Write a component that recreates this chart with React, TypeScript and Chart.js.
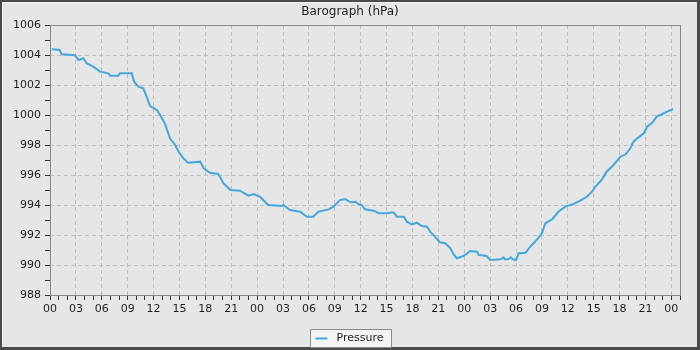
import React, { useEffect, useRef } from "react";
import { Chart, registerables } from "chart.js";

Chart.register(...registerables);

// hours since start (00:00 of day 1)
const hours = [
  0.2, 1.1, 1.35, 2.9, 3.3, 3.86, 4.25, 5.0, 5.8, 6.76, 6.96, 7.9, 8.1, 9.47, 9.74,
  10.24, 10.8, 11.2, 11.6, 12.4, 12.75, 13.3, 13.9, 14.5, 14.9, 15.45, 16.0, 17.4,
  17.8, 18.55, 19.5, 20.1, 20.9, 22.0, 23.0, 23.6, 24.35, 24.9, 25.3, 26.9, 27.05,
  27.8, 29.0, 29.76, 30.5, 31.1, 32.3, 32.85, 33.6, 34.2, 34.8, 35.4, 35.7, 36.1,
  36.5, 37.5, 38.1, 39.0, 39.8, 40.2, 41.0, 41.35, 41.9, 42.5, 43.1, 43.7, 44.05,
  44.6, 45.2, 45.8, 46.4, 46.8, 47.15, 47.9, 48.7, 49.5, 49.66, 50.6, 51.0, 52.2,
  52.56, 52.7, 53.1, 53.4, 53.6, 54.0, 54.3, 55.1, 55.65, 56.4, 57.0, 57.4, 58.2,
  58.9, 59.7, 60.67, 61.45, 62.2, 62.8, 63.2, 63.96, 64.5, 65.3, 66.1, 66.7, 67.25,
  67.6, 68.2, 68.8, 69.2, 69.8, 70.3, 70.9, 71.5, 72.2,
];

const pressure = [
  1004.38, 1004.33, 1004.05, 1003.98, 1003.67, 1003.78, 1003.45, 1003.22, 1002.89,
  1002.78, 1002.62, 1002.62, 1002.78, 1002.78, 1002.22, 1001.89, 1001.78, 1001.22,
  1000.6, 1000.33, 1000.0, 999.45, 998.45, 998.0, 997.55, 997.11, 996.82, 996.89,
  996.45, 996.15, 996.07, 995.45, 995.0, 994.95, 994.62, 994.73, 994.55, 994.22,
  994.0, 993.93, 994.0, 993.67, 993.55, 993.22, 993.22, 993.55, 993.71, 993.89,
  994.33, 994.4, 994.18, 994.22, 994.07, 994.0, 993.71, 993.62, 993.45, 993.45,
  993.51, 993.22, 993.22, 992.89, 992.71, 992.82, 992.6, 992.55, 992.22, 991.89,
  991.51, 991.45, 991.11, 990.67, 990.45, 990.6, 990.93, 990.89, 990.67, 990.6,
  990.33, 990.38, 990.51, 990.38, 990.38, 990.51, 990.38, 990.33, 990.78, 990.82,
  991.22, 991.67, 992.11, 992.78, 993.05, 993.55, 993.89, 994.07, 994.29, 994.55,
  994.89, 995.22, 995.71, 996.22, 996.67, 997.22, 997.38, 997.78, 998.22, 998.51,
  998.78, 999.22, 999.49, 999.89, 1000.05, 1000.22, 1000.4,
];

const hourLabels = ["00", "03", "06", "09", "12", "15", "18", "21"];
const xMin = 0;
const xMax = 73;
const yMin = 988;
const yMax = 1006;

const titleText = "Barograph (hPa)";
const seriesName = "Pressure";

const FONT = "DejaVu Sans";
const LINE_COLOR = "#45a6da";
const GRID_COLOR = "#bdbdbd";
const TICK_COLOR = "#333333";
const FRAME_COLOR = "#8a8a8a";
const TEXT_COLOR = "#1e1e1e";

export default function App() {
  const ref = useRef<HTMLCanvasElement | null>(null);

  useEffect(() => {
    if (!ref.current) return;

    const bgPlugin = {
      id: "bg",
      beforeDraw(chart: any) {
        const { ctx, width, height } = chart;
        ctx.save();
        ctx.fillStyle = "#4a4a4a";
        ctx.fillRect(0, 0, width, height);
        ctx.fillStyle = "#f2f2f2";
        ctx.fillRect(2, 2, width - 5, height - 5);
        ctx.fillStyle = "#e6e6e6";
        ctx.fillRect(3, 3, width - 6, height - 6);
        ctx.restore();
      },
    };

    const framePlugin = {
      id: "frame",
      beforeDatasetsDraw(chart: any) {
        const { ctx, chartArea: a } = chart;
        ctx.save();
        ctx.strokeStyle = FRAME_COLOR;
        ctx.lineWidth = 1;
        ctx.strokeRect(Math.round(a.left) + 0.5, Math.round(a.top) + 0.5,
          Math.round(a.right - a.left), Math.round(a.bottom - a.top));
        ctx.restore();
      },
    };

    const legendPlugin = {
      id: "customLegend",
      afterDraw(chart: any) {
        const { ctx, width } = chart;
        ctx.save();
        ctx.font = `11px "${FONT}"`;
        const tw = ctx.measureText(seriesName).width;
        const symW = 12;
        const gap = 9;
        const padX = 5;
        const boxW = Math.round(padX + symW + gap + tw + padX + 3);
        const boxH = 18;
        const left = Math.round((width - boxW) / 2) + 0.5;
        const top = 329.5;
        ctx.fillStyle = "#f4f4f4";
        ctx.fillRect(left, top, boxW, boxH);
        ctx.strokeStyle = FRAME_COLOR;
        ctx.lineWidth = 1;
        ctx.strokeRect(left, top, boxW, boxH);
        const cy = top + boxH / 2;
        ctx.strokeStyle = LINE_COLOR;
        ctx.lineWidth = 2;
        ctx.beginPath();
        ctx.moveTo(left + padX, cy);
        ctx.lineTo(left + padX + symW, cy);
        ctx.stroke();
        ctx.fillStyle = TEXT_COLOR;
        ctx.textBaseline = "middle";
        ctx.textAlign = "left";
        ctx.fillText(seriesName, left + padX + symW + gap, cy);
        ctx.restore();
      },
    };

    const chart = new Chart(ref.current, {
      type: "line",
      data: {
        datasets: [
          {
            label: seriesName,
            data: hours.map((h, i) => ({ x: h, y: pressure[i] })),
            borderColor: LINE_COLOR,
            backgroundColor: LINE_COLOR,
            borderWidth: 2,
            pointRadius: 0,
            tension: 0,
            fill: false,
          },
        ],
      },
      options: {
        animation: false,
        responsive: false,
        maintainAspectRatio: false,
        layout: { padding: { left: 0, right: 0, top: 0, bottom: 0 } },
        plugins: {
          legend: { display: false },
          tooltip: { enabled: false },
          title: {
            display: true,
            text: titleText,
            color: TEXT_COLOR,
            font: { family: FONT, size: 12, weight: "normal", lineHeight: 1.2 },
            padding: { top: 5, bottom: 5.6 },
          },
        },
        scales: {
          x: {
            type: "linear",
            min: xMin,
            max: xMax,
            afterFit(scale: any) {
              scale.height = 55;
            },
            border: { display: false, dash: [4, 3] },
            grid: {
              color: (ctx: any) =>
                ctx.tick && ctx.tick.value % 3 === 0 && ctx.tick.value > xMin
                  ? GRID_COLOR
                  : "transparent",
              lineWidth: 1,
              tickColor: TICK_COLOR,
              tickLength: 5,
              tickBorderDash: [],
              drawTicks: true,
            },
            ticks: {
              stepSize: 1,
              autoSkip: false,
              maxRotation: 0,
              minRotation: 0,
              padding: 3,
              color: TEXT_COLOR,
              font: { family: FONT, size: 11 },
              callback: (v: any) => {
                const n = Math.round(Number(v));
                return n % 3 === 0 ? hourLabels[(n % 24) / 3] : "";
              },
            },
          },
          y: {
            type: "linear",
            position: "left",
            min: yMin,
            max: yMax,
            afterFit(scale: any) {
              scale.width = 50;
            },
            border: { display: false, dash: [4, 3] },
            grid: {
              color: (ctx: any) =>
                ctx.tick && ctx.tick.value % 2 === 0 && ctx.tick.value > yMin && ctx.tick.value < yMax
                  ? GRID_COLOR
                  : "transparent",
              lineWidth: 1,
              tickColor: TICK_COLOR,
              tickLength: 5,
              tickBorderDash: [],
              drawTicks: true,
            },
            ticks: {
              stepSize: 1,
              autoSkip: false,
              padding: 4,
              color: TEXT_COLOR,
              font: { family: FONT, size: 11 },
              callback: (v: any) => {
                const n = Math.round(Number(v));
                return n % 2 === 0 ? String(n) : "";
              },
            },
          },
          yRight: {
            type: "linear",
            position: "right",
            min: yMin,
            max: yMax,
            afterFit(scale: any) {
              scale.width = 20;
            },
            border: { display: false },
            grid: { display: false, drawTicks: false },
            ticks: { display: false },
          },
        },
      },
      plugins: [bgPlugin, framePlugin, legendPlugin],
    });

    return () => chart.destroy();
  }, []);

  return (
    <div style={{ position: "absolute", left: 0, top: 0, width: 700, height: 350 }}>
      <canvas ref={ref} width={700} height={350} style={{ display: "block" }} />
    </div>
  );
}
